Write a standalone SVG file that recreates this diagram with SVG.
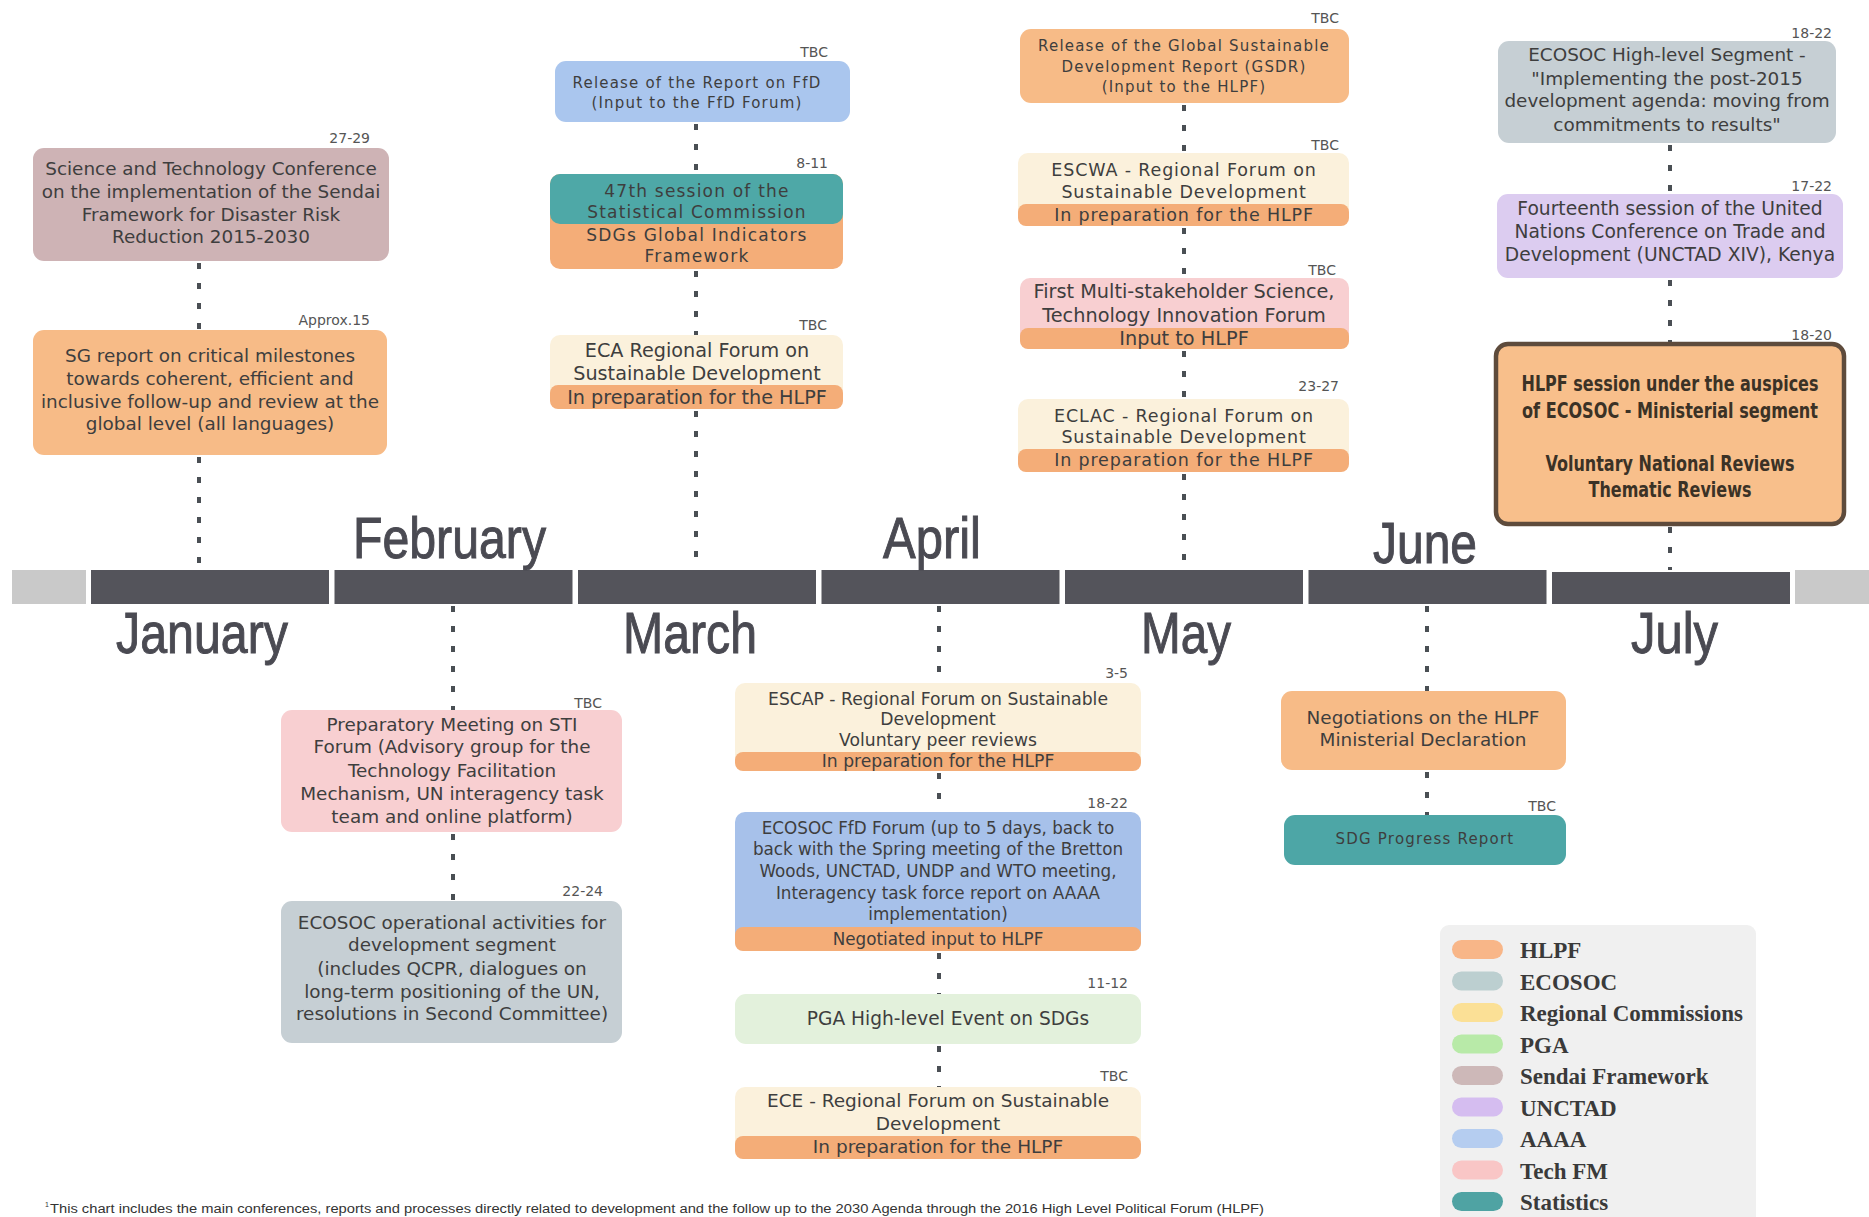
<svg xmlns="http://www.w3.org/2000/svg" width="1869" height="1217" viewBox="0 0 1869 1217">
<style>
.t{font-family:"DejaVu Sans",Verdana,sans-serif;font-size:18.4px;fill:#3e3e3e;text-anchor:middle}
.s{font-size:15px;letter-spacing:1.2px}
.d{font-family:"DejaVu Sans",Verdana,sans-serif;font-size:14px;fill:#555;text-anchor:end}
.m{font-family:"Liberation Sans Narrow","Liberation Sans",Arial,sans-serif;font-size:58px;fill:#4a4a52;stroke:#4a4a52;stroke-width:1}
.c{stroke:#4a4f54;stroke-width:4;stroke-dasharray:6 14;fill:none}
.lg{font-family:"Liberation Serif","Times New Roman",serif;font-weight:bold;font-size:23px;fill:#3a3a3a}
.hl{font-family:"Liberation Sans Narrow","DejaVu Sans Condensed","Liberation Sans",sans-serif;font-weight:bold;font-size:21px;fill:#3b3226;text-anchor:middle}
.or{fill:#f7bb87}.band{fill:#f4ad78}.yl{fill:#fbf1dc}.pk{fill:#f8cfd1}.gb{fill:#c6cfd4}
</style>
<rect width="1869" height="1217" fill="#ffffff"/>

<g id="timeline">
<rect x="12" y="570" width="74" height="34" fill="#c9c9c9"/>
<rect x="1795" y="570" width="74" height="34" fill="#c9c9c9"/>
<rect x="91" y="570" width="238" height="34" fill="#54545b"/>
<rect x="334.5" y="570" width="238" height="34" fill="#54545b"/>
<rect x="578" y="570" width="238" height="34" fill="#54545b"/>
<rect x="821.5" y="570" width="238" height="34" fill="#54545b"/>
<rect x="1065" y="570" width="238" height="34" fill="#54545b"/>
<rect x="1308.5" y="570" width="238" height="34" fill="#54545b"/>
<rect x="1552" y="572" width="238" height="32" fill="#54545b"/>
<text class="m" x="116" y="653" textLength="172" lengthAdjust="spacingAndGlyphs">January</text>
<text class="m" x="353" y="558" textLength="193" lengthAdjust="spacingAndGlyphs">February</text>
<text class="m" x="623" y="653" textLength="134" lengthAdjust="spacingAndGlyphs">March</text>
<text class="m" x="883" y="558" textLength="98" lengthAdjust="spacingAndGlyphs">April</text>
<text class="m" x="1141" y="653" textLength="90" lengthAdjust="spacingAndGlyphs">May</text>
<text class="m" x="1373" y="563" textLength="104" lengthAdjust="spacingAndGlyphs">June</text>
<text class="m" x="1631" y="653" textLength="87" lengthAdjust="spacingAndGlyphs">July</text>
</g>

<g id="connectors">
<line class="c" x1="199" y1="263" x2="199" y2="330"/>
<line class="c" x1="199" y1="457" x2="199" y2="570"/>
<line class="c" x1="696" y1="124" x2="696" y2="174"/>
<line class="c" x1="696" y1="271" x2="696" y2="335"/>
<line class="c" x1="696" y1="411" x2="696" y2="570"/>
<line class="c" x1="1184" y1="105" x2="1184" y2="153"/>
<line class="c" x1="1184" y1="228" x2="1184" y2="278"/>
<line class="c" x1="1184" y1="351" x2="1184" y2="399"/>
<line class="c" x1="1184" y1="474" x2="1184" y2="570"/>
<line class="c" x1="1670" y1="145" x2="1670" y2="194"/>
<line class="c" x1="1670" y1="280" x2="1670" y2="344"/>
<line class="c" x1="1670" y1="527" x2="1670" y2="570"/>
<line class="c" x1="453" y1="606" x2="453" y2="710"/>
<line class="c" x1="453" y1="834" x2="453" y2="901"/>
<line class="c" x1="939" y1="606" x2="939" y2="683"/>
<line class="c" x1="939" y1="773" x2="939" y2="812"/>
<line class="c" x1="939" y1="953" x2="939" y2="994"/>
<line class="c" x1="939" y1="1046" x2="939" y2="1087"/>
<line class="c" x1="1427" y1="606" x2="1427" y2="691"/>
<line class="c" x1="1427" y1="772" x2="1427" y2="815"/>
</g>

<g id="n-sendai">
<rect x="33" y="148" width="356" height="113" rx="11" fill="#ceb3b5"/>
<text class="d" x="370" y="143">27-29</text>
<text class="t" x="211" y="175">Science and Technology Conference</text>
<text class="t" x="211" y="198">on the implementation of the Sendai</text>
<text class="t" x="211" y="221">Framework for Disaster Risk</text>
<text class="t" x="211" y="243">Reduction 2015-2030</text>
</g>

<g id="n-sg">
<rect x="33" y="330" width="354" height="125" rx="11" class="or"/>
<text class="d" x="370" y="325">Approx.15</text>
<text class="t" x="210" y="362">SG report on critical milestones</text>
<text class="t" x="210" y="385">towards coherent, efficient and</text>
<text class="t" x="210" y="408">inclusive follow-up and review at the</text>
<text class="t" x="210" y="430">global level (all languages)</text>
</g>

<g id="n-ffd-report">
<rect x="555" y="61" width="295" height="61" rx="11" fill="#aac6ee"/>
<text class="d" x="828" y="57">TBC</text>
<text class="t s" x="697" y="88">Release of the Report on FfD</text>
<text class="t s" x="697" y="108">(Input to the FfD Forum)</text>
</g>

<g id="n-statcom">
<rect x="550" y="174" width="293" height="95" rx="10" class="band"/>
<rect x="550" y="174" width="293" height="50" rx="10" fill="#4ea8a7"/>
<text class="d" x="828" y="168">8-11</text>
<text class="t s" x="697" y="197" style="font-size:17px">47th session of the</text>
<text class="t s" x="697" y="218" style="font-size:17px">Statistical Commission</text>
<text class="t s" x="697" y="241" style="font-size:17px">SDGs Global Indicators</text>
<text class="t s" x="697" y="262" style="font-size:17px">Framework</text>
</g>

<g id="n-eca">
<rect x="550" y="335" width="293" height="74" rx="10" class="yl"/>
<rect x="550" y="385" width="293" height="24" rx="8" class="band"/>
<text class="d" x="827" y="330">TBC</text>
<text class="t" x="697" y="357" style="font-size:19.2px">ECA Regional Forum on</text>
<text class="t" x="697" y="380" style="font-size:19.2px">Sustainable Development</text>
<text class="t" x="697" y="404" style="font-size:19.2px">In preparation for the HLPF</text>
</g>

<g id="n-gsdr">
<rect x="1020" y="29" width="329" height="74" rx="11" class="or"/>
<text class="d" x="1339" y="23">TBC</text>
<text class="t s" x="1184" y="51">Release of the Global Sustainable</text>
<text class="t s" x="1184" y="72">Development Report (GSDR)</text>
<text class="t s" x="1184" y="92">(Input to the HLPF)</text>
</g>

<g id="n-escwa">
<rect x="1018" y="153" width="331" height="73" rx="10" class="yl"/>
<rect x="1018" y="204" width="331" height="22" rx="8" class="band"/>
<text class="d" x="1339" y="150">TBC</text>
<text class="t" x="1184" y="176" style="font-size:17.5px;letter-spacing:0.85px">ESCWA - Regional Forum on</text>
<text class="t" x="1184" y="198" style="font-size:17.5px;letter-spacing:0.85px">Sustainable Development</text>
<text class="t" x="1184" y="221" style="font-size:17.5px;letter-spacing:0.85px">In preparation for the HLPF</text>
</g>

<g id="n-sti">
<rect x="1020" y="278" width="329" height="71" rx="10" class="pk"/>
<rect x="1020" y="328" width="329" height="21" rx="8" class="band"/>
<text class="d" x="1336" y="275">TBC</text>
<text class="t" x="1184" y="298" style="font-size:19.3px">First Multi-stakeholder Science,</text>
<text class="t" x="1184" y="322" style="font-size:19.3px">Technology Innovation Forum</text>
<text class="t" x="1184" y="345" style="font-size:19.3px">Input to HLPF</text>
</g>

<g id="n-eclac">
<rect x="1018" y="399" width="331" height="73" rx="10" class="yl"/>
<rect x="1018" y="449" width="331" height="23" rx="8" class="band"/>
<text class="d" x="1339" y="391">23-27</text>
<text class="t" x="1184" y="422" style="font-size:17.5px;letter-spacing:0.85px">ECLAC - Regional Forum on</text>
<text class="t" x="1184" y="443" style="font-size:17.5px;letter-spacing:0.85px">Sustainable Development</text>
<text class="t" x="1184" y="466" style="font-size:17.5px;letter-spacing:0.85px">In preparation for the HLPF</text>
</g>

<g id="n-ecosoc-hl">
<rect x="1498" y="41" width="338" height="102" rx="11" class="gb"/>
<text class="d" x="1832" y="38">18-22</text>
<text class="t" x="1667" y="61">ECOSOC High-level Segment -</text>
<text class="t" x="1667" y="85">"Implementing the post-2015</text>
<text class="t" x="1667" y="107">development agenda: moving from</text>
<text class="t" x="1667" y="131">commitments to results"</text>
</g>

<g id="n-unctad">
<rect x="1497" y="194" width="346" height="84" rx="11" fill="#dcccf0"/>
<text class="d" x="1832" y="191">17-22</text>
<text class="t" x="1670" y="215" style="font-size:18.7px">Fourteenth session of the United</text>
<text class="t" x="1670" y="238" style="font-size:18.7px">Nations Conference on Trade and</text>
<text class="t" x="1670" y="261" style="font-size:18.7px">Development (UNCTAD XIV), Kenya</text>
</g>

<g id="n-hlpf">
<rect x="1496" y="344" width="348" height="180" rx="12" fill="#f8bf8b" stroke="#5e4b3c" stroke-width="4.5"/>
<text class="d" x="1832" y="340">18-20</text>
<text class="hl" x="1670" y="391" textLength="297" lengthAdjust="spacingAndGlyphs">HLPF session under the auspices</text>
<text class="hl" x="1670" y="418" textLength="296" lengthAdjust="spacingAndGlyphs">of ECOSOC - Ministerial segment</text>
<text class="hl" x="1670" y="471" textLength="249" lengthAdjust="spacingAndGlyphs">Voluntary National Reviews</text>
<text class="hl" x="1670" y="497" textLength="163" lengthAdjust="spacingAndGlyphs">Thematic Reviews</text>
</g>

<g id="n-prep">
<rect x="281" y="710" width="341" height="122" rx="11" class="pk"/>
<text class="d" x="602" y="708">TBC</text>
<text class="t" x="452" y="731">Preparatory Meeting on STI</text>
<text class="t" x="452" y="753">Forum (Advisory group for the</text>
<text class="t" x="452" y="777">Technology Facilitation</text>
<text class="t" x="452" y="800">Mechanism, UN interagency task</text>
<text class="t" x="452" y="823">team and online platform)</text>
</g>

<g id="n-ecosoc-op">
<rect x="281" y="901" width="341" height="142" rx="11" class="gb"/>
<text class="d" x="603" y="896">22-24</text>
<text class="t" x="452" y="929">ECOSOC operational activities for</text>
<text class="t" x="452" y="951">development segment</text>
<text class="t" x="452" y="975">(includes QCPR, dialogues on</text>
<text class="t" x="452" y="998">long-term positioning of the UN,</text>
<text class="t" x="452" y="1020">resolutions in Second Committee)</text>
</g>

<g id="n-escap">
<rect x="735" y="683" width="406" height="88" rx="10" class="yl"/>
<rect x="735" y="752" width="406" height="19" rx="8" class="band"/>
<text class="d" x="1128" y="678">3-5</text>
<text class="t" x="938" y="705" style="font-size:17.2px">ESCAP - Regional Forum on Sustainable</text>
<text class="t" x="938" y="725" style="font-size:17.2px">Development</text>
<text class="t" x="938" y="746" style="font-size:17.2px">Voluntary peer reviews</text>
<text class="t" x="938" y="767" style="font-size:17.2px">In preparation for the HLPF</text>
</g>

<g id="n-ffd-forum">
<rect x="735" y="812" width="406" height="139" rx="10" fill="#a7c1ea"/>
<rect x="735" y="927" width="406" height="24" rx="8" class="band"/>
<text class="d" x="1128" y="808">18-22</text>
<text class="t" x="938" y="834" style="font-size:16.8px">ECOSOC FfD Forum (up to 5 days, back to</text>
<text class="t" x="938" y="855" style="font-size:16.8px">back with the Spring meeting of the Bretton</text>
<text class="t" x="938" y="877" style="font-size:16.8px">Woods, UNCTAD, UNDP and WTO meeting,</text>
<text class="t" x="938" y="899" style="font-size:16.8px">Interagency task force report on AAAA</text>
<text class="t" x="938" y="920" style="font-size:16.8px">implementation)</text>
<text class="t" x="938" y="945" style="font-size:16.8px">Negotiated input to HLPF</text>
</g>

<g id="n-pga">
<rect x="735" y="994" width="406" height="50" rx="11" fill="#e3f1dc"/>
<text class="d" x="1128" y="988">11-12</text>
<text class="t" x="948" y="1025" style="font-size:18.6px">PGA High-level Event on SDGs</text>
</g>

<g id="n-ece">
<rect x="735" y="1087" width="406" height="72" rx="10" class="yl"/>
<rect x="735" y="1136" width="406" height="23" rx="8" class="band"/>
<text class="d" x="1128" y="1081">TBC</text>
<text class="t" x="938" y="1107" style="font-size:18.5px">ECE - Regional Forum on Sustainable</text>
<text class="t" x="938" y="1130" style="font-size:18.5px">Development</text>
<text class="t" x="938" y="1153" style="font-size:18.5px">In preparation for the HLPF</text>
</g>

<g id="n-negotiations">
<rect x="1281" y="691" width="285" height="79" rx="11" class="or"/>
<text class="t" x="1423" y="724">Negotiations on the HLPF</text>
<text class="t" x="1423" y="746">Ministerial Declaration</text>
</g>

<g id="n-sdg-report">
<rect x="1284" y="815" width="282" height="50" rx="11" fill="#4da6a6"/>
<text class="d" x="1556" y="811">TBC</text>
<text class="t s" x="1425" y="844">SDG Progress Report</text>
</g>

<g id="legend">
<rect x="1440" y="925" width="316" height="305" rx="9" fill="#f0f0f0"/>
<rect x="1452" y="940" width="51" height="19" rx="9.5" fill="#f8b688"/>
<text class="lg" x="1520" y="958">HLPF</text>
<rect x="1452" y="971.5" width="51" height="19" rx="9.5" fill="#bccfd0"/>
<text class="lg" x="1520" y="989.5">ECOSOC</text>
<rect x="1452" y="1003" width="51" height="19" rx="9.5" fill="#fbe096"/>
<text class="lg" x="1520" y="1021">Regional Commissions</text>
<rect x="1452" y="1034.5" width="51" height="19" rx="9.5" fill="#b8eaa8"/>
<text class="lg" x="1520" y="1052.5">PGA</text>
<rect x="1452" y="1066" width="51" height="19" rx="9.5" fill="#cdb8b8"/>
<text class="lg" x="1520" y="1084">Sendai Framework</text>
<rect x="1452" y="1097.5" width="51" height="19" rx="9.5" fill="#d5bdf0"/>
<text class="lg" x="1520" y="1115.5">UNCTAD</text>
<rect x="1452" y="1129" width="51" height="19" rx="9.5" fill="#b5cdf0"/>
<text class="lg" x="1520" y="1147">AAAA</text>
<rect x="1452" y="1160.5" width="51" height="19" rx="9.5" fill="#f9c6c6"/>
<text class="lg" x="1520" y="1178.5">Tech FM</text>
<rect x="1452" y="1192" width="51" height="19" rx="9.5" fill="#4fa3a3"/>
<text class="lg" x="1520" y="1210">Statistics</text>
</g>

<g id="footnote">
<text x="45" y="1207" font-family="Liberation Sans" font-size="7" fill="#333">1</text>
<text x="50" y="1213" font-family="Liberation Sans Narrow,Liberation Sans,sans-serif" font-size="12" fill="#333" textLength="1214" lengthAdjust="spacingAndGlyphs">This chart includes the main conferences, reports and processes directly related to development and the follow up to the 2030 Agenda through the 2016 High Level Political Forum (HLPF)</text>
</g>
</svg>
